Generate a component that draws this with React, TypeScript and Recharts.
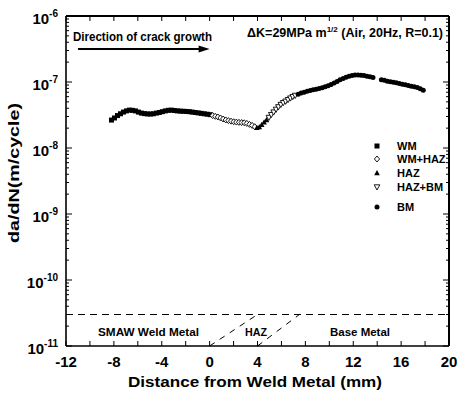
import React from 'react';
import { ScatterChart, Scatter, XAxis, YAxis, ReferenceLine, Legend } from 'recharts';

const FONT = '"Liberation Sans", Arial, Helvetica, sans-serif';

// ---- data (distance mm, da/dN m/cycle) ----
const wmData = [
  { x: -8.2, y: 2.65e-8 }, { x: -7.95, y: 2.85e-8 }, { x: -7.7, y: 3.1e-8 }, { x: -7.45, y: 3.3e-8 },
  { x: -7.2, y: 3.5e-8 }, { x: -6.95, y: 3.65e-8 }, { x: -6.7, y: 3.75e-8 }, { x: -6.45, y: 3.72e-8 },
  { x: -6.2, y: 3.65e-8 }, { x: -5.95, y: 3.5e-8 }, { x: -5.7, y: 3.38e-8 }, { x: -5.45, y: 3.32e-8 },
  { x: -5.2, y: 3.28e-8 }, { x: -4.95, y: 3.27e-8 }, { x: -4.7, y: 3.3e-8 }, { x: -4.45, y: 3.38e-8 },
  { x: -4.2, y: 3.45e-8 }, { x: -3.95, y: 3.55e-8 }, { x: -3.7, y: 3.65e-8 }, { x: -3.45, y: 3.72e-8 },
  { x: -3.2, y: 3.75e-8 }, { x: -2.95, y: 3.7e-8 }, { x: -2.7, y: 3.65e-8 }, { x: -2.45, y: 3.62e-8 },
  { x: -2.2, y: 3.6e-8 }, { x: -1.95, y: 3.58e-8 }, { x: -1.7, y: 3.55e-8 }, { x: -1.45, y: 3.5e-8 },
  { x: -1.2, y: 3.45e-8 }, { x: -0.95, y: 3.4e-8 }, { x: -0.7, y: 3.35e-8 }, { x: -0.45, y: 3.3e-8 },
  { x: -0.2, y: 3.25e-8 }, { x: 0.05, y: 3.2e-8 },
];

const wmHazData = [
  { x: 0.25, y: 3.1e-8 }, { x: 0.47, y: 3.02e-8 }, { x: 0.69, y: 2.95e-8 }, { x: 0.91, y: 2.85e-8 },
  { x: 1.13, y: 2.75e-8 }, { x: 1.35, y: 2.66e-8 }, { x: 1.57, y: 2.6e-8 }, { x: 1.79, y: 2.55e-8 },
  { x: 2.01, y: 2.5e-8 }, { x: 2.23, y: 2.47e-8 }, { x: 2.45, y: 2.45e-8 }, { x: 2.67, y: 2.43e-8 },
  { x: 2.89, y: 2.41e-8 }, { x: 3.11, y: 2.36e-8 }, { x: 3.33, y: 2.28e-8 }, { x: 3.55, y: 2.2e-8 },
  { x: 3.77, y: 2.1e-8 },
];

const hazData = [
  { x: 3.95, y: 2.02e-8 }, { x: 4.15, y: 2.08e-8 }, { x: 4.35, y: 2.25e-8 }, { x: 4.55, y: 2.45e-8 },
  { x: 4.75, y: 2.65e-8 },
];

const hazBmData = [
  { x: 4.95, y: 2.9e-8 }, { x: 5.15, y: 3.2e-8 }, { x: 5.35, y: 3.5e-8 }, { x: 5.55, y: 3.85e-8 },
  { x: 5.75, y: 4.2e-8 }, { x: 5.95, y: 4.55e-8 }, { x: 6.15, y: 4.85e-8 }, { x: 6.35, y: 5.1e-8 },
  { x: 6.55, y: 5.4e-8 }, { x: 6.75, y: 5.7e-8 }, { x: 6.95, y: 6.0e-8 }, { x: 7.15, y: 6.25e-8 },
];

const bmData = [
  { x: 7.4, y: 6.55e-8 }, { x: 7.65, y: 6.8e-8 }, { x: 7.9, y: 7.0e-8 }, { x: 8.15, y: 7.25e-8 },
  { x: 8.4, y: 7.45e-8 }, { x: 8.65, y: 7.6e-8 }, { x: 8.9, y: 7.75e-8 }, { x: 9.15, y: 7.95e-8 },
  { x: 9.4, y: 8.15e-8 }, { x: 9.65, y: 8.45e-8 }, { x: 9.9, y: 8.8e-8 }, { x: 10.15, y: 9.2e-8 },
  { x: 10.4, y: 9.65e-8 }, { x: 10.65, y: 1.02e-7 }, { x: 10.9, y: 1.08e-7 }, { x: 11.15, y: 1.13e-7 },
  { x: 11.4, y: 1.18e-7 }, { x: 11.65, y: 1.22e-7 }, { x: 11.9, y: 1.26e-7 }, { x: 12.15, y: 1.28e-7 },
  { x: 12.4, y: 1.28e-7 }, { x: 12.65, y: 1.27e-7 }, { x: 12.9, y: 1.25e-7 }, { x: 13.15, y: 1.22e-7 },
  { x: 13.4, y: 1.2e-7 }, { x: 13.65, y: 1.17e-7 }, { x: 14.35, y: 1.08e-7 }, { x: 14.6, y: 1.06e-7 },
  { x: 14.85, y: 1.03e-7 }, { x: 15.1, y: 1.01e-7 }, { x: 15.35, y: 9.9e-8 }, { x: 15.6, y: 9.7e-8 },
  { x: 15.85, y: 9.45e-8 }, { x: 16.1, y: 9.25e-8 }, { x: 16.35, y: 9.05e-8 }, { x: 16.6, y: 8.85e-8 },
  { x: 16.85, y: 8.65e-8 }, { x: 17.1, y: 8.5e-8 }, { x: 17.35, y: 8.25e-8 }, { x: 17.6, y: 7.9e-8 },
  { x: 17.85, y: 7.5e-8 },
];

// ---- axes ----
const xDomain = [-12, 20];
const xTicks = [-12, -10, -8, -6, -4, -2, 0, 2, 4, 6, 8, 10, 12, 14, 16, 18, 20];
const xLabelTicks = [-12, -8, -4, 0, 4, 8, 12, 16, 20];
const yDomain = [1e-11, 1e-6];
const yDecades = [-11, -10, -9, -8, -7];
const yMinorMult = [1, 2, 3, 4, 5, 6, 7, 8, 9];
const yTicks = [...yDecades.flatMap((d) => yMinorMult.map((m) => m * Math.pow(10, d))), 1e-6];

// reference levels / zone boundaries
const thresholdLevel = 3e-11;
const zoneLine1 = [{ x: 0, y: 1e-11 }, { x: 4, y: 3e-11 }];
const zoneLine2 = [{ x: 4, y: 1e-11 }, { x: 7.5, y: 3e-11 }];
const arrowSeg = [{ x: -11, y: 3.16e-7 }, { x: 0, y: 3.16e-7 }];

// ---- layout ----
const CHART_W = 461;
const CHART_H = 394;
const M_TOP = 16;
const M_RIGHT = 12;
const M_BOTTOM = 18;
const M_LEFT = 10;
const Y_AXIS_W = 56;
const X_AXIS_H = 30;
const PLOT_X = M_LEFT + Y_AXIS_W; // 66
const PLOT_Y = M_TOP; // 16
const PLOT_R = CHART_W - M_RIGHT; // 449
const PLOT_B = CHART_H - M_BOTTOM - X_AXIS_H; // 346

const isDecade = (v: number) => {
  const lg = Math.log10(v);
  return Math.abs(lg - Math.round(lg)) < 1e-6;
};

const YTickLeft = (props: any) => {
  const { y, payload } = props;
  const v = payload.value;
  const major = isDecade(v);
  const len = major ? 6 : 3;
  return (
    <g>
      <line x1={PLOT_X} y1={y} x2={PLOT_X + len} y2={y} stroke="#000" strokeWidth={1} />
      <line x1={PLOT_R} y1={y} x2={PLOT_R - len} y2={y} stroke="#000" strokeWidth={1} />
      {major && (
        <text x={PLOT_X - 8} y={y + 8} textAnchor="end" fontFamily={FONT} fontWeight="bold" fontSize={15} fill="#000">
          10<tspan dy={-7} fontSize={10}>{String(Math.round(Math.log10(v)))}</tspan>
        </text>
      )}
    </g>
  );
};

const XTickBottom = (props: any) => {
  const { x, payload } = props;
  const v = payload.value;
  return (
    <g>
      <line x1={x} y1={PLOT_B} x2={x} y2={PLOT_B - 5} stroke="#000" strokeWidth={1} />
      <line x1={x} y1={PLOT_Y} x2={x} y2={PLOT_Y + 5} stroke="#000" strokeWidth={1} />
      {xLabelTicks.includes(v) && (
        <text x={x} y={PLOT_B + 21} textAnchor="middle" fontFamily={FONT} fontWeight="bold" fontSize={15} fill="#000">
          {String(v)}
        </text>
      )}
    </g>
  );
};

// ---- markers ----
const SquareMark = ({ cx, cy }: any) => <rect x={cx - 2.5} y={cy - 2.5} width={5} height={5} fill="#000" />;
const DiamondMark = ({ cx, cy }: any) => (
  <polygon points={`${cx},${cy - 3} ${cx + 2.6},${cy} ${cx},${cy + 3} ${cx - 2.6},${cy}`} fill="#fff" stroke="#000" strokeWidth={0.9} />
);
const TriUpMark = ({ cx, cy }: any) => (
  <polygon points={`${cx},${cy - 3} ${cx + 2.8},${cy + 2.2} ${cx - 2.8},${cy + 2.2}`} fill="#000" />
);
const TriDownMark = ({ cx, cy }: any) => (
  <polygon points={`${cx},${cy + 3} ${cx + 2.8},${cy - 2.2} ${cx - 2.8},${cy - 2.2}`} fill="#fff" stroke="#000" strokeWidth={0.9} />
);
const CircleMark = ({ cx, cy }: any) => <circle cx={cx} cy={cy} r={2.5} fill="#000" />;

const seriesList = [
  { name: 'WM', data: wmData, shape: SquareMark },
  { name: 'WM+HAZ', data: wmHazData, shape: DiamondMark },
  { name: 'HAZ', data: hazData, shape: TriUpMark },
  { name: 'HAZ+BM', data: hazBmData, shape: TriDownMark },
  { name: 'BM', data: bmData, shape: CircleMark },
];

const legendGap: Record<string, number> = { BM: 6.5 };

const LegendContent = () => (
  <div style={{ fontFamily: FONT, fontWeight: 'bold', fontSize: 11, color: '#000' }}>
    {seriesList.map((s) => {
      const Shape = s.shape;
      return (
        <div key={s.name} style={{ display: 'flex', alignItems: 'center', height: 13.6, marginTop: legendGap[s.name] || 0 }}>
          <svg width={12} height={12} style={{ marginRight: 14, display: 'block' }}>
            <Shape cx={6} cy={6} />
          </svg>
          <span>{s.name}</span>
        </div>
      );
    })}
  </div>
);

const ArrowShape = (p: any) => {
  const { x1, y1, x2, y2 } = p;
  return (
    <g>
      <line x1={x1} y1={y1} x2={x2 - 8} y2={y2} stroke="#000" strokeWidth={2} />
      <polygon points={`${x2},${y2} ${x2 - 11},${y2 - 3.5} ${x2 - 11},${y2 + 3.5}`} fill="#000" />
    </g>
  );
};

export default function App() {
  const txt = { fontFamily: FONT, fontWeight: 'bold' as const, fill: '#000' };
  return (
    <div style={{ position: 'absolute', left: 0, top: 0, width: CHART_W, height: CHART_H, background: '#fff' }}>
      <ScatterChart
        width={CHART_W}
        height={CHART_H}
        margin={{ top: M_TOP, right: M_RIGHT, bottom: M_BOTTOM, left: M_LEFT }}
      >
        <XAxis
          type="number"
          dataKey="x"
          domain={xDomain}
          ticks={xTicks}
          interval={0}
          tickSize={0}
          tickMargin={0}
          tickLine={false}
          tick={<XTickBottom />}
          axisLine={{ stroke: '#000', strokeWidth: 1.6 }}
          height={X_AXIS_H}
          allowDataOverflow
        />
        <YAxis
          type="number"
          dataKey="y"
          scale="log"
          domain={yDomain}
          ticks={yTicks}
          interval={0}
          tickSize={0}
          tickMargin={0}
          tickLine={false}
          tick={<YTickLeft />}
          axisLine={{ stroke: '#000', strokeWidth: 1.6 }}
          width={Y_AXIS_W}
          allowDataOverflow
        />
        <ReferenceLine y={thresholdLevel} stroke="#000" strokeWidth={1.2} strokeDasharray="7 5" />
        <ReferenceLine segment={zoneLine1} stroke="#000" strokeWidth={1} strokeDasharray="6 6" />
        <ReferenceLine segment={zoneLine2} stroke="#000" strokeWidth={1} strokeDasharray="6 6" />
        <ReferenceLine segment={arrowSeg} shape={<ArrowShape />} />
        {seriesList.map((s) => (
          <Scatter key={s.name} name={s.name} data={s.data} shape={<s.shape />} isAnimationActive={false} />
        ))}
        <Legend
          layout="horizontal"
          align="center"
          verticalAlign="middle"
          content={<LegendContent />}
          wrapperStyle={{ left: 371, top: 139, width: 80 }}
        />
      </ScatterChart>
      <svg width={CHART_W} height={CHART_H} style={{ position: 'absolute', left: 0, top: 0, pointerEvents: 'none' }}>
        <line x1={PLOT_X} y1={PLOT_Y} x2={PLOT_R} y2={PLOT_Y} stroke="#000" strokeWidth={2} />
        <line x1={PLOT_R} y1={PLOT_Y} x2={PLOT_R} y2={PLOT_B} stroke="#000" strokeWidth={2} />
        <text x={73} y={41} fontSize={12} textLength={139} lengthAdjust="spacingAndGlyphs" {...txt}>Direction of crack growth</text>
        <text x={443} y={37} textAnchor="end" fontSize={12.5} {...txt}>
          ΔK=29MPa m<tspan dy={-5} fontSize={8}>1/2</tspan><tspan dy={5}> (Air, 20Hz, R=0.1)</tspan>
        </text>
        <text x={98} y={336} fontSize={11.5} textLength={101} lengthAdjust="spacingAndGlyphs" {...txt}>SMAW Weld Metal</text>
        <text x={245} y={336} fontSize={11.5} textLength={22} lengthAdjust="spacingAndGlyphs" {...txt}>HAZ</text>
        <text x={330} y={336} fontSize={11.5} textLength={60} lengthAdjust="spacingAndGlyphs" {...txt}>Base Metal</text>
        <text x={255} y={387} textAnchor="middle" fontSize={15} textLength={254} lengthAdjust="spacingAndGlyphs" {...txt}>Distance from Weld Metal (mm)</text>
        <text x={19} y={173} textAnchor="middle" fontSize={15} textLength={140} lengthAdjust="spacingAndGlyphs" transform="rotate(-90 19 173)" {...txt}>da/dN(m/cycle)</text>
      </svg>
    </div>
  );
}
